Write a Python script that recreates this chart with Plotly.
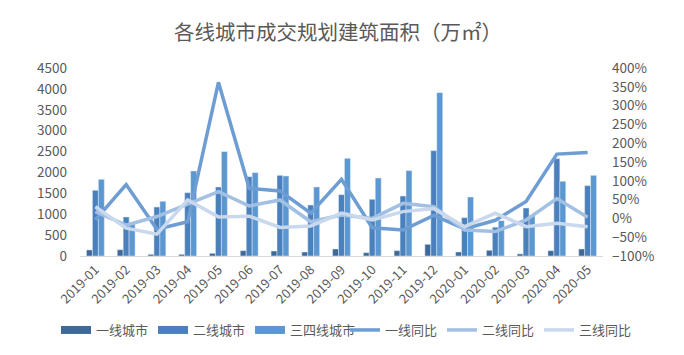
import plotly.graph_objects as go

months = ["2019-01", "2019-02", "2019-03", "2019-04", "2019-05", "2019-06", "2019-07", "2019-08",
          "2019-09", "2019-10", "2019-11", "2019-12", "2020-01", "2020-02", "2020-03", "2020-04", "2020-05"]

tier1_area = [145, 150, 40, 40, 64, 128, 120, 96, 168, 80, 128, 279, 96, 136, 50, 128, 168]
tier2_area = [1573, 934, 1173, 1516, 1652, 1899, 1931, 1221, 1468, 1357, 1436, 2522, 918, 690, 1149, 2330, 1684]
tier34_area = [1836, 806, 1309, 2035, 2498, 1995, 1915, 1652, 2338, 1867, 2043, 3910, 1412, 846, 965, 1788, 1931]

tier1_yoy = [-4, 90, -29, -9, 362, 80, 73, 14, 104, -25, -31, 8, -28, -5, 45, 171, 175]
tier2_yoy = [18, -18, 5, 39, 71, 33, 49, -9, 9, 0, 40, 31, -31, -35, -4, 53, 3]
tier3_yoy = [31, -26, -42, 49, 4, 6, -24, -20, 14, -4, 18, 26, -22, 14, -22, -13, -22]

bar_names = ["一线城市", "二线城市", "三四线城市"]
bar_colors = ["#3d6a9a", "#4a80bb", "#5b97d0"]
line_names = ["一线同比", "二线同比", "三线同比"]
line_colors = ["#6d9dd3", "#a2c0e4", "#c9d8ed"]

font_cjk = "Noto Sans CJK SC, Noto Sans, sans-serif"
gray = "#595959"

fig = go.Figure()
for name, vals, col in zip(bar_names, [tier1_area, tier2_area, tier34_area], bar_colors):
    fig.add_trace(go.Bar(x=months, y=vals, name=name, marker_color=col, showlegend=False))
for name, col in zip(bar_names, bar_colors):
    # legend swatch (wide rectangle like the reference)
    fig.add_trace(go.Scatter(x=[None], y=[None], name=name, mode="lines",
                             line=dict(color=col, width=8), legend="legend"))
for name, vals, col in zip(line_names, [tier1_yoy, tier2_yoy, tier3_yoy], line_colors):
    fig.add_trace(go.Scatter(x=months, y=vals, name=name, yaxis="y2", mode="lines",
                             line=dict(color=col, width=3.5), legend="legend2"))

W, H = 676, 347
fig.update_layout(
    width=W, height=H,
    margin=dict(l=72, r=81, t=60, b=99, autoexpand=False),
    paper_bgcolor="white", plot_bgcolor="white",
    title=dict(text="各线城市成交规划建筑面积（万㎡）", x=330 / W, xanchor="center",
               xref="container", yref="container", y=1 - 25 / H, yanchor="middle",
               font=dict(family=font_cjk, size=20.5, color=gray)),
    barmode="group", bargap=0.42, bargroupgap=0,
    font=dict(family=font_cjk, color=gray),
    xaxis=dict(type="category", tickangle=-45, showgrid=False, showline=True, linecolor="#d9d9d9",
               linewidth=1, ticks="", tickfont=dict(size=13, color=gray), automargin=False),
    yaxis=dict(range=[0, 4500], dtick=500, showgrid=False, zeroline=False, showline=False,
               ticks="", tickfont=dict(size=13.5, color=gray), automargin=False,
               ticklabelstandoff=12),
    yaxis2=dict(range=[-100, 400], dtick=50, ticksuffix="%", overlaying="y", side="right",
                showgrid=False, zeroline=False, showline=False, ticks="",
                tickfont=dict(size=13.5, color=gray), automargin=False,
                ticklabelstandoff=8),
    legend=dict(orientation="h", xref="container", yref="container", x=48 / W, xanchor="left",
                y=25 / H, yanchor="middle", font=dict(size=13, color=gray),
                tracegroupgap=0, itemwidth=30, bgcolor="rgba(0,0,0,0)"),
    legend2=dict(orientation="h", xref="container", yref="container", x=337 / W, xanchor="left",
                 y=25 / H, yanchor="middle", font=dict(size=13, color=gray),
                 tracegroupgap=0, itemwidth=30, bgcolor="rgba(0,0,0,0)"),
    showlegend=True,
)

fig.write_html("out.html")
